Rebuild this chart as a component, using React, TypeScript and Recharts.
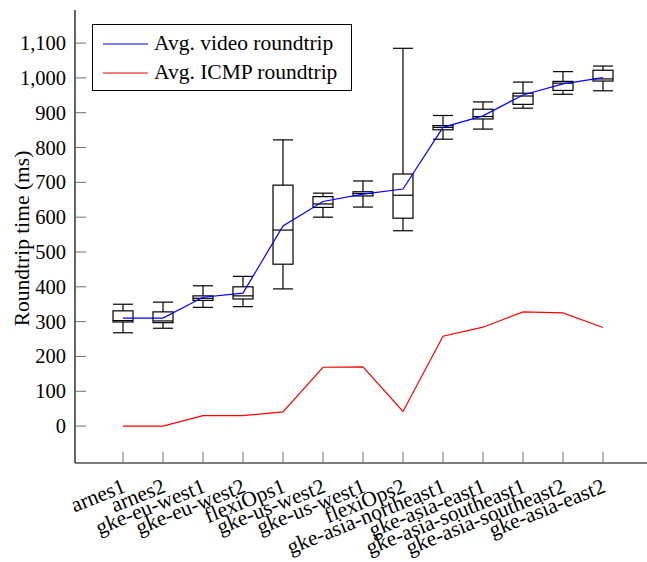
import React from 'react';
import { ComposedChart, Bar, Line, XAxis, YAxis, Legend } from 'recharts';

const categories = [
  'arnes1', 'arnes2', 'gke-eu-west1', 'gke-eu-west2', 'flexiOps1', 'gke-us-west2', 'gke-us-west1',
  'flexiOps2', 'gke-asia-northeast1', 'gke-asia-east1', 'gke-asia-southeast1', 'gke-asia-southeast2', 'gke-asia-east2',
];
const whiskerLow = [268, 281, 341, 343, 394, 600, 629, 561, 824, 853, 913, 953, 963];
const q1 = [299, 297, 361, 365, 465, 628, 661, 597, 851, 882, 924, 964, 991];
const median = [303, 302, 367, 374, 563, 638, 668, 663, 858, 889, 948, 985, 997];
const q3 = [331, 328, 374, 400, 692, 659, 673, 724, 863, 910, 956, 990, 1022];
const whiskerHigh = [350, 356, 403, 430, 822, 669, 704, 1085, 892, 931, 988, 1018, 1034];
const videoAvg = [310, 310, 370, 382, 575, 645, 666, 681, 858, 891, 951, 983, 1001];
const icmpAvg = [0, 0, 30, 30, 41, 169, 170, 42, 258, 284, 328, 325, 283];
const yTicks = [0, 100, 200, 300, 400, 500, 600, 700, 800, 900, 1000, 1100];
const seriesNames = ['Avg. video roundtrip', 'Avg. ICMP roundtrip'];

const data = categories.map((name, i) => ({
  name,
  range: [whiskerLow[i], whiskerHigh[i]],
  low: whiskerLow[i],
  q1: q1[i],
  median: median[i],
  q3: q3[i],
  high: whiskerHigh[i],
  video: videoAvg[i],
  icmp: icmpAvg[i],
}));

const FONT = 'Liberation Serif, Times New Roman, Tinos, DejaVu Serif, Noto Serif, serif';
const FS = 21.5;
const NUM_FS = 20.5;
const TICK = 11;
const TICK_COLOR = '#6e6e6e';

const BoxShape = (props: any) => {
  const { x, y, width, height, payload } = props;
  const { low, high } = payload;
  const py = (v: number) => y + (height * (high - v)) / (high - low);
  const cx = x + width / 2;
  return (
    <g fill="none" stroke="#000" strokeWidth={1.2}>
      <line x1={cx} x2={cx} y1={py(high)} y2={py(payload.q3)} />
      <line x1={cx} x2={cx} y1={py(payload.q1)} y2={py(low)} />
      <line x1={x} x2={x + width} y1={py(high)} y2={py(high)} />
      <line x1={x} x2={x + width} y1={py(low)} y2={py(low)} />
      <rect x={x} y={py(payload.q3)} width={width} height={py(payload.q1) - py(payload.q3)} />
      <line x1={x} x2={x + width} y1={py(payload.median)} y2={py(payload.median)} />
    </g>
  );
};

const BottomTick = (props: any) => {
  const { x, y, payload } = props;
  const tx = x + 1;
  const ty = y + 22;
  return (
    <g>
      <line x1={x} x2={x} y1={y} y2={y - TICK} stroke={TICK_COLOR} strokeWidth={1} />
      <text
        x={tx}
        y={ty}
        textAnchor="end"
        dominantBaseline="central"
        style={{ fontFamily: FONT, fontSize: FS }}
        fill="#000"
        transform={`rotate(-22, ${tx}, ${ty})`}
      >
        {payload.value}
      </text>
    </g>
  );
};

const TopTick = (props: any) => {
  const { x, y } = props;
  return <line x1={x} x2={x} y1={y} y2={y + TICK} stroke={TICK_COLOR} strokeWidth={1} />;
};

const LeftTick = (props: any) => {
  const { x, y, payload } = props;
  return (
    <g>
      <line x1={x} x2={x + TICK} y1={y} y2={y} stroke={TICK_COLOR} strokeWidth={1} />
      <text x={x - 9} y={y} textAnchor="end" dominantBaseline="central" style={{ fontFamily: FONT, fontSize: NUM_FS }} fill="#000">
        {Number(payload.value).toLocaleString('en-US')}
      </text>
    </g>
  );
};

const RightTick = (props: any) => {
  const { x, y } = props;
  return <line x1={x} x2={x - TICK} y1={y} y2={y} stroke={TICK_COLOR} strokeWidth={1} />;
};

const LegendBox = (props: any) => {
  const items = (props.payload || [])
    .filter((p: any) => seriesNames.includes(p.value))
    .sort((a: any, b: any) => seriesNames.indexOf(a.value) - seriesNames.indexOf(b.value));
  return (
    <div style={{ border: '1px solid #000', background: '#fff', width: 260, height: 67, padding: '4px 0', boxSizing: 'border-box' }}>
      {items.map((p: any) => (
        <div key={p.value} style={{ display: 'flex', alignItems: 'center', height: 29 }}>
          <svg width={61} height={29}>
            <line x1={10} x2={55} y1={15} y2={15} stroke={p.color} strokeWidth={1.2} />
          </svg>
          <span style={{ fontFamily: FONT, fontSize: FS, color: '#000', lineHeight: '29px', whiteSpace: 'nowrap' }}>{p.value}</span>
        </div>
      ))}
    </div>
  );
};

const YLabel = (props: any) => {
  const vb = props.viewBox || {};
  const cx = 22;
  const cy = vb.y + vb.height / 2 + 2;
  return (
    <text x={cx} y={cy} textAnchor="middle" dominantBaseline="central" style={{ fontFamily: FONT, fontSize: FS }} fill="#000"
      transform={`rotate(-90, ${cx}, ${cy})`}>
      Roundtrip time (ms)
    </text>
  );
};

export default function App() {
  return (
    <div style={{ position: 'absolute', left: 0, top: 0, width: 647, height: 562, overflow: 'hidden', background: '#fff' }}>
      <ComposedChart width={662} height={562} data={data} margin={{ top: 10, right: 10, bottom: 0, left: 0 }}>
        <XAxis
          dataKey="name"
          height={99}
          padding={{ left: 28, right: 29 }}
          interval={0}
          tickSize={0}
          tickMargin={0}
          tickLine={false}
          axisLine={{ stroke: '#000', strokeWidth: 1.2 }}
          tick={<BottomTick />}
        />
        <XAxis
          xAxisId="top"
          orientation="top"
          dataKey="name"
          height={0}
          padding={{ left: 28, right: 29 }}
          interval={0}
          tickSize={0}
          tickMargin={0}
          tickLine={false}
          axisLine={{ stroke: '#000', strokeWidth: 1.2 }}
          tick={<TopTick />}
        />
        <YAxis
          width={75}
          type="number"
          domain={[-106, 1195]}
          allowDataOverflow
          ticks={yTicks}
          interval={0}
          tickSize={0}
          tickMargin={0}
          tickLine={false}
          axisLine={{ stroke: '#000', strokeWidth: 1.2 }}
          tick={<LeftTick />}
          label={<YLabel />}
        />
        <YAxis
          yAxisId="right"
          orientation="right"
          width={0}
          type="number"
          domain={[-106, 1195]}
          allowDataOverflow
          ticks={yTicks}
          interval={0}
          tickSize={0}
          tickMargin={0}
          tickLine={false}
          axisLine={{ stroke: '#000', strokeWidth: 1.2 }}
          tick={<RightTick />}
        />
        <Legend
          layout="horizontal"
          verticalAlign="middle"
          align="center"
          content={<LegendBox />}
          wrapperStyle={{ position: 'absolute', left: 92, top: 24, width: 260 }}
        />
        <Bar dataKey="range" barSize={20} shape={<BoxShape />} legendType="none" isAnimationActive={false} />
        <Line dataKey="video" name={seriesNames[0]} stroke="#0000ff" strokeWidth={1.2} dot={false} activeDot={false} isAnimationActive={false} />
        <Line dataKey="icmp" name={seriesNames[1]} stroke="#ff0000" strokeWidth={1.2} dot={false} activeDot={false} isAnimationActive={false} />
        <Line xAxisId="top" yAxisId="right" dataKey="icmp" stroke="none" dot={false} activeDot={false} legendType="none" isAnimationActive={false} />
      </ComposedChart>
    </div>
  );
}
